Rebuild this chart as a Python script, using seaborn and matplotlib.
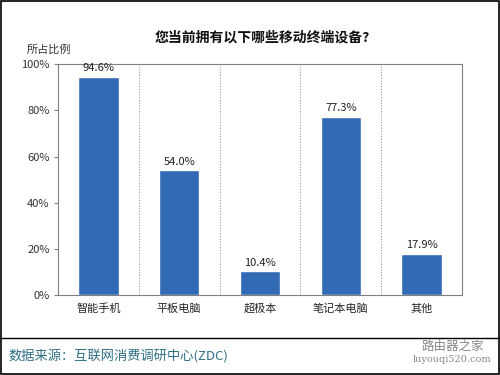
import pandas as pd
import matplotlib.pyplot as plt
import seaborn as sns
from matplotlib.lines import Line2D
from matplotlib.patches import Rectangle

# chart data
categories = ["智能手机", "平板电脑", "超极本", "笔记本电脑", "其他"]
values = [94.6, 54.0, 10.4, 77.3, 17.9]
y_ticks = [0, 20, 40, 60, 80, 100]
y_tick_labels = ["0%", "20%", "40%", "60%", "80%", "100%"]

data = pd.DataFrame({"device": categories, "share": values})

sns.set_style("white")
plt.rcParams["font.family"] = ["Noto Sans CJK SC", "DejaVu Sans"]

fig = plt.figure(figsize=(5, 3.75), dpi=100)
ax = fig.add_axes([0.116, 0.213, 0.808, 0.616])

sns.barplot(data=data, x="device", y="share", color="#336ab5",
            width=0.5, saturation=1, ax=ax)

for i, v in enumerate(values):
    ax.text(i, v + 1.5, f"{v:.1f}%", ha="center", va="bottom",
            fontsize=8, color="#222222")

ax.set_ylim(0, 100)
ax.set_xlim(-0.5, len(categories) - 0.5)
ax.set_yticks(y_ticks)
ax.set_yticklabels(y_tick_labels, fontsize=8, color="#333333")
ax.tick_params(axis="x", labelsize=8, length=0, pad=6)
ax.tick_params(axis="y", length=3, left=True, color="#808080", pad=3)
ax.set_xlabel("")
ax.set_ylabel("")

# dotted separators between categories
for x in range(len(categories) - 1):
    ax.axvline(x + 0.5, color="#9a9a9a", linestyle=(0, (1, 1.5)), linewidth=0.8)

for side in ax.spines.values():
    side.set_color("#808080")
    side.set_linewidth(0.8)

fig.text(0.524, 0.90, "您当前拥有以下哪些移动终端设备?", ha="center", va="center",
         fontsize=10, fontweight="bold", color="#111111")
fig.text(0.053, 0.867, "所占比例", ha="left", va="center", fontsize=8, color="#333333")

# footer
fig.add_artist(Line2D([0, 1], [0.099, 0.099], color="black", linewidth=1))
fig.text(0.016, 0.051, "数据来源：互联网消费调研中心(ZDC)", ha="left", va="center",
         fontsize=9.5, color="#2f6f85")
fig.text(0.905, 0.075, "路由器之家", ha="center", va="center", fontsize=9, color="#888888")
fig.text(0.905, 0.04, "luyouqi520.com", ha="center", va="center", fontsize=7,
         color="#888888", family="DejaVu Serif")

# outer frame
fig.add_artist(Rectangle((0.002, 0.002), 0.996, 0.996, transform=fig.transFigure,
                         fill=False, edgecolor="black", linewidth=1.2))

plt.savefig("out.png", dpi=100)
plt.close()
